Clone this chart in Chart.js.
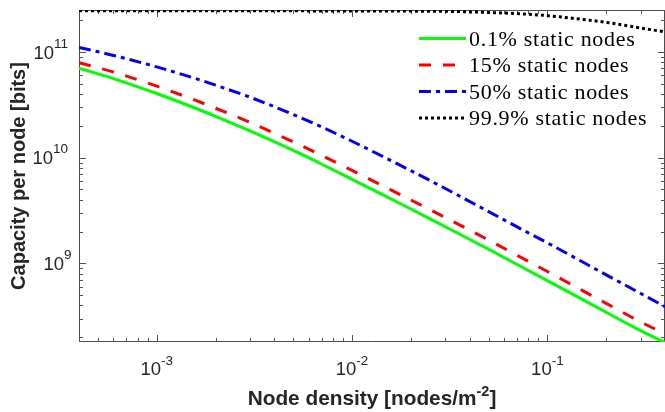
<!DOCTYPE html>
<html>
<head>
<meta charset="utf-8">
<title>Capacity per node vs node density</title>
<script src="https://cdn.jsdelivr.net/npm/chart.js@4.4.1/dist/chart.umd.min.js"></script>
<style>
  html, body { margin: 0; padding: 0; background: #ffffff; }
  canvas { display: block; }
</style>
</head>
<body>
<canvas id="chart" width="665" height="412"></canvas>
<script>
// Node density [nodes/m^-2]
const density = [4e-4, 6e-4, 1e-3, 1.5e-3, 2e-3, 3e-3, 5e-3, 7e-3, 1e-2, 1.5e-2, 2e-2, 3e-2, 5e-2, 7e-2, 0.1, 0.15, 0.2, 0.3, 0.4];

// Capacity per node [bits] for each share of static nodes
const static01 = [7.02e10, 5.61e10, 4.05e10, 3.05e10, 2.46e10, 1.79e10, 1.17e10, 8.67e9, 6.24e9, 4.28e9, 3.27e9, 2.22e9, 1.36e9, 9.75e8, 6.85e8, 4.58e8, 3.44e8, 2.31e8, 1.78e8];
const static15 = [7.91e10, 6.47e10, 4.75e10, 3.62e10, 2.94e10, 2.16e10, 1.41e10, 1.05e10, 7.57e9, 5.20e9, 3.98e9, 2.71e9, 1.66e9, 1.19e9, 8.36e8, 5.57e8, 4.18e8, 2.79e8, 2.15e8];
const static50 = [1.107e11, 9.29e10, 7.23e10, 5.78e10, 4.86e10, 3.74e10, 2.56e10, 1.95e10, 1.43e10, 9.86e9, 7.53e9, 5.11e9, 3.09e9, 2.21e9, 1.56e9, 1.04e9, 7.78e8, 5.19e8, 3.89e8];
const static999 = [2.46e11, 2.46e11, 2.46e11, 2.46e11, 2.46e11, 2.46e11, 2.455e11, 2.45e11, 2.45e11, 2.445e11, 2.44e11, 2.43e11, 2.37e11, 2.31e11, 2.21e11, 2.04e11, 1.91e11, 1.69e11, 1.55e11];

const seriesLabels = ['0.1% static nodes', '15% static nodes', '50% static nodes', '99.9% static nodes'];

// Decade exponents that carry tick labels
const xTickExponents = ['-3', '-2', '-1'];
const yTickExponents = ['9', '10', '11'];

const xRange = [4e-4, 0.4];
const yRange = [1.8e8, 2.5e11];

const toPoints = (ys) => density.map((x, i) => ({ x: x, y: ys[i] }));

const styles = [
  { color: '#00ff00', dash: [] },
  { color: '#ff0000', dash: [12, 12] },
  { color: '#0000ff', dash: [12, 5, 4, 5] },
  { color: '#000000', dash: [3, 3] }
];
const seriesValues = [static01, static15, static50, static999];

const datasets = seriesValues.map((vals, i) => ({
  label: seriesLabels[i],
  data: toPoints(vals),
  borderColor: styles[i].color,
  backgroundColor: styles[i].color,
  borderDash: styles[i].dash,
  borderWidth: 3,
  borderCapStyle: 'butt',
  pointRadius: 0,
  pointHoverRadius: 0,
  fill: false,
  cubicInterpolationMode: 'monotone'
}));

const SANS = '"Liberation Sans", Arial, Helvetica, sans-serif';
const SERIF = '"Liberation Serif", "Times New Roman", serif';
const TEXT = '#262626';

function logTicks(min, max) {
  const out = [];
  const lo = Math.floor(Math.log10(min));
  const hi = Math.ceil(Math.log10(max));
  for (let e = lo; e <= hi; e++) {
    for (let m = 1; m <= 9; m++) {
      const v = m * Math.pow(10, e);
      if (v >= min * 0.999 && v <= max * 1.001) out.push({ v: v, major: m === 1 });
    }
  }
  return out;
}

// Draws "10" with a raised exponent starting at x0 on the given baseline
function drawPower(ctx, x0, baseline, exp, baseFont, expFont, rise) {
  ctx.font = baseFont;
  const wb = ctx.measureText('10').width;
  ctx.fillText('10', x0, baseline);
  ctx.font = expFont;
  ctx.fillText(exp, x0 + wb, baseline - rise);
}
function powerWidth(ctx, exp, baseFont, expFont) {
  ctx.font = baseFont;
  const wb = ctx.measureText('10').width;
  ctx.font = expFont;
  return wb + ctx.measureText(exp).width;
}

const axesPlugin = {
  id: 'boxedLogAxes',
  beforeDatasetsDraw(chart) {
    const { ctx, chartArea: a, scales } = chart;
    const xs = scales.x, ys = scales.y;
    ctx.save();
    // Frame
    ctx.lineWidth = 1;
    ctx.strokeStyle = '#4d4d4d';
    ctx.beginPath();
    ctx.moveTo(a.left + 0.5, a.top + 0.5);
    ctx.lineTo(a.left + 0.5, a.bottom - 0.5);
    ctx.lineTo(a.right, a.bottom - 0.5);
    ctx.moveTo(a.left + 0.5, a.top + 0.5);
    ctx.lineTo(a.right, a.top + 0.5);
    ctx.moveTo(a.right - 0.5, a.top);
    ctx.lineTo(a.right - 0.5, a.bottom);
    ctx.stroke();

    // Inward ticks on all four sides
    ctx.strokeStyle = '#555555';
    ctx.beginPath();
    logTicks(xRange[0], xRange[1]).forEach(t => {
      const px = Math.round(xs.getPixelForValue(t.v)) + 0.5;
      const len = t.major ? 7 : 4;
      ctx.moveTo(px, a.bottom);
      ctx.lineTo(px, a.bottom - len);
      ctx.moveTo(px, a.top);
      ctx.lineTo(px, a.top + len);
    });
    logTicks(yRange[0], yRange[1]).forEach(t => {
      const py = Math.round(ys.getPixelForValue(t.v)) + 0.5;
      const len = t.major ? 7 : 4;
      ctx.moveTo(a.left, py);
      ctx.lineTo(a.left + len, py);
      ctx.moveTo(a.right, py);
      ctx.lineTo(a.right - len, py);
    });
    ctx.stroke();
    ctx.restore();
  },
  afterDraw(chart) {
    const { ctx, chartArea: a, scales } = chart;
    const xs = scales.x, ys = scales.y;
    ctx.save();
    ctx.fillStyle = TEXT;
    ctx.textAlign = 'left';
    ctx.textBaseline = 'alphabetic';
    const baseFont = '18.5px ' + SANS;
    const expFont = '13.5px ' + SANS;

    // X tick labels
    xTickExponents.forEach(e => {
      const px = xs.getPixelForValue(Math.pow(10, Number(e)));
      const w = powerWidth(ctx, e, baseFont, expFont);
      drawPower(ctx, px - w / 2, 375, e, baseFont, expFont, 10);
    });

    // Y tick labels
    yTickExponents.forEach(e => {
      const py = ys.getPixelForValue(Math.pow(10, Number(e)));
      const w = powerWidth(ctx, e, baseFont, expFont);
      const right = e.length === 1 ? 71.5 : 68;
      drawPower(ctx, right - w, py + 6.5, e, baseFont, expFont, 11);
    });

    // X axis title
    const tFont = 'bold 20.8px ' + SANS;
    const tExpFont = 'bold 14.5px ' + SANS;
    const part1 = 'Node density [nodes/m';
    const part2 = '-2';
    const part3 = ']';
    ctx.font = tFont;
    const w1 = ctx.measureText(part1).width;
    const w3 = ctx.measureText(part3).width;
    ctx.font = tExpFont;
    const w2 = ctx.measureText(part2).width;
    const total = w1 + w2 + w3;
    const cx = (a.left + a.right) / 2;
    const x0 = cx - total / 2;
    const tb = 405;
    ctx.font = tFont;
    ctx.fillText(part1, x0, tb);
    ctx.font = tExpFont;
    ctx.fillText(part2, x0 + w1, tb - 9);
    ctx.font = tFont;
    ctx.fillText(part3, x0 + w1 + w2, tb);

    // Y axis title
    ctx.save();
    ctx.translate(25, (a.top + a.bottom) / 2);
    ctx.rotate(-Math.PI / 2);
    ctx.textAlign = 'center';
    ctx.font = 'bold 20px ' + SANS;
    ctx.fillText('Capacity per node [bits]', 0, 0);
    ctx.restore();

    // Legend
    const lx0 = 419, lx1 = 466, tx = 469;
    chart.data.datasets.forEach((ds, i) => {
      const ry = 38.5 + i * 26.5;
      ctx.save();
      ctx.strokeStyle = ds.borderColor;
      ctx.lineWidth = ds.borderWidth;
      ctx.lineCap = 'butt';
      ctx.setLineDash(ds.borderDash || []);
      ctx.beginPath();
      ctx.moveTo(lx0, ry);
      ctx.lineTo(lx1, ry);
      ctx.stroke();
      ctx.restore();
      ctx.save();
      ctx.fillStyle = '#000000';
      ctx.font = '22px ' + SERIF;
      if ('letterSpacing' in ctx) ctx.letterSpacing = '0.7px';
      ctx.textAlign = 'left';
      ctx.fillText(ds.label, tx, ry + 7);
      ctx.restore();
    });
    ctx.restore();
  }
};

new Chart(document.getElementById('chart'), {
  type: 'line',
  data: { datasets: datasets },
  options: {
    responsive: false,
    animation: false,
    devicePixelRatio: 1,
    layout: { padding: { left: 79, right: 0, top: 10, bottom: 70 } },
    plugins: {
      legend: { display: false },
      tooltip: { enabled: false }
    },
    scales: {
      x: { type: 'logarithmic', min: xRange[0], max: xRange[1], display: false },
      y: { type: 'logarithmic', min: yRange[0], max: yRange[1], display: false }
    }
  },
  plugins: [axesPlugin]
});
</script>
</body>
</html>
